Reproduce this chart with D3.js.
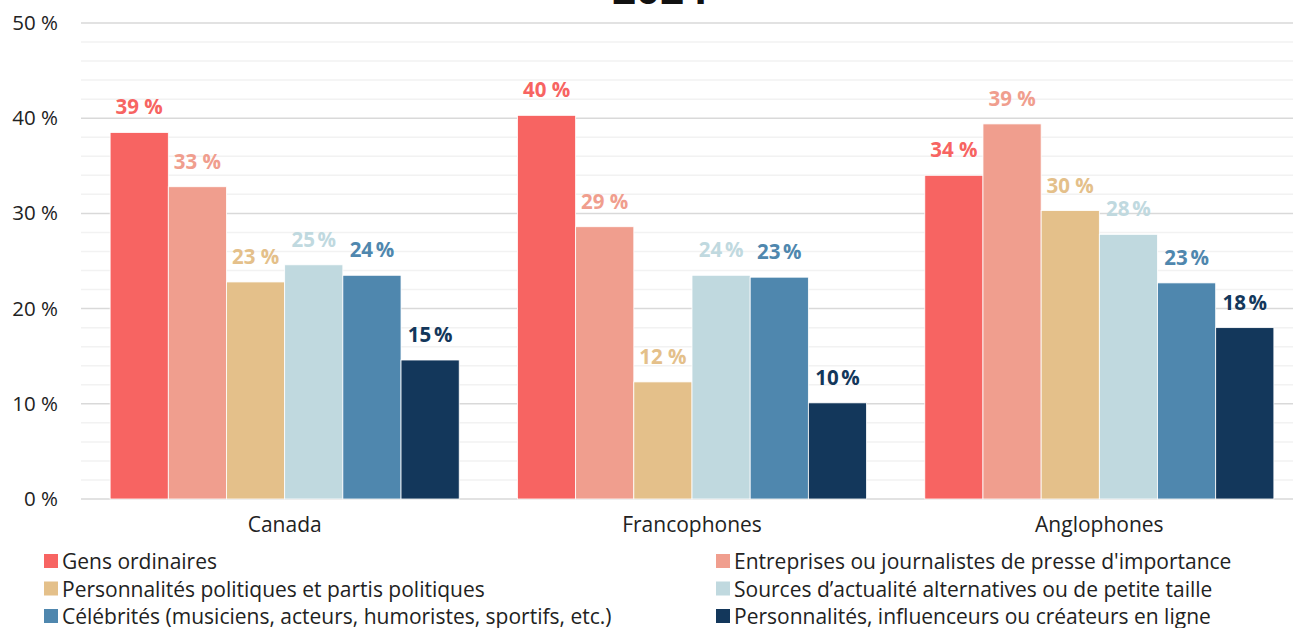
<!DOCTYPE html>
<html>
<head>
<meta charset="utf-8">
<script src="https://cdn.jsdelivr.net/npm/d3@7"></script>
<style>
  body { margin: 0; background: #fff; }
  svg { display: block; font-family: "Open Sans", "Noto Sans", sans-serif; }
</style>
</head>
<body>
<svg id="chart" width="1293" height="628"></svg>
<script>
var groups = ["Canada", "Francophones", "Anglophones"];
var series = [
  "Gens ordinaires",
  "Entreprises ou journalistes de presse d'importance",
  "Personnalités politiques et partis politiques",
  "Sources d’actualité alternatives ou de petite taille",
  "Célébrités (musiciens, acteurs, humoristes, sportifs, etc.)",
  "Personnalités, influenceurs ou créateurs en ligne"
];
var colors = ["#f76462", "#f09e8e", "#e4c08a", "#c0d9df", "#4f87ae", "#13375b"];
// one row per group, one value per series (percent)
var canada = [38.5, 32.8, 22.8, 24.6, 23.5, 14.6];
var francophones = [40.3, 28.6, 12.3, 23.5, 23.3, 10.1];
var anglophones = [34.0, 39.4, 30.3, 27.8, 22.7, 18.0];
var yTicks = [0, 10, 20, 30, 40, 50];

var values = [canada, francophones, anglophones];

var svg = d3.select("#chart");
var plotLeft = 81, plotRight = 1303, plotTop = 23, plotBottom = 499;

var y = d3.scaleLinear().domain([0, 50]).range([plotBottom, plotTop]);
var x0 = d3.scaleBand().domain(groups).range([plotLeft, plotRight])
  .paddingInner(0.143).paddingOuter(0.0715);
var x1 = d3.scaleBand().domain(series).range([0, x0.bandwidth()]);

// minor grid
svg.append("g").selectAll("line")
  .data(d3.range(0, 51, 2).filter(function(d) { return d % 10 != 0; }))
  .enter().append("line")
  .attr("x1", plotLeft).attr("x2", 1293)
  .attr("y1", function(d) { return y(d); })
  .attr("y2", function(d) { return y(d); })
  .attr("stroke", "#f2f2f2").attr("stroke-width", 1.5);

// major grid
svg.append("g").selectAll("line")
  .data(yTicks)
  .enter().append("line")
  .attr("x1", plotLeft).attr("x2", 1293)
  .attr("y1", function(d) { return y(d); })
  .attr("y2", function(d) { return y(d); })
  .attr("stroke", "#d9d9d9").attr("stroke-width", 1.5);

// y axis labels
var yAxis = d3.axisLeft(y).tickValues(yTicks).tickSize(0).tickPadding(0)
  .tickFormat(function(d) { return d + " %"; });
var ya = svg.append("g").attr("transform", "translate(58,0)").call(yAxis);
ya.select(".domain").remove();
ya.selectAll("text").attr("font-size", 20.5).attr("fill", "#222")
  .attr("font-family", "'Open Sans', sans-serif");

// title (cut off at top)
svg.append("text")
  .attr("x", 660).attr("y", 4)
  .attr("text-anchor", "middle")
  .attr("font-size", 42).attr("font-weight", "bold").attr("fill", "#111")
  .text("2024");

// bars
var g = svg.append("g").selectAll("g")
  .data(groups)
  .enter().append("g")
  .attr("transform", function(d) { return "translate(" + x0(d) + ",0)"; });

g.selectAll("rect")
  .data(function(d, i) {
    return series.map(function(s, j) { return {s: s, v: values[i][j], c: colors[j], j: j}; });
  })
  .enter().append("rect")
  .attr("x", function(d) { return x1(d.s); })
  .attr("width", x1.bandwidth())
  .attr("y", function(d) { return y(d.v); })
  .attr("height", function(d) { return plotBottom - y(d.v); })
  .attr("fill", function(d) { return d.c; })
  .attr("stroke", "#fff").attr("stroke-width", 0.8);

g.selectAll("text")
  .data(function(d, i) {
    return series.map(function(s, j) { return {s: s, v: values[i][j], c: colors[j], j: j}; });
  })
  .enter().append("text")
  .attr("x", function(d) { return x1(d.s) + x1.bandwidth() / 2; })
  .attr("y", function(d) { return y(d.v) - 18; })
  .attr("text-anchor", "middle")
  .attr("font-size", 20.5).attr("font-weight", "bold")
  .attr("fill", function(d) { return d.c; })
  .text(function(d) { return Math.round(d.v) + (d.j < 3 ? " %" : "\u202f%"); });

// x axis labels
var xAxis = d3.axisBottom(x0).tickSize(0).tickPadding(0);
var xa = svg.append("g").attr("transform", "translate(0,517)").call(xAxis);
xa.select(".domain").remove();
xa.selectAll("text").attr("font-size", 21).attr("fill", "#222")
  .attr("font-family", "'Open Sans', sans-serif");

// legend
var leg = svg.append("g").selectAll("g")
  .data(series)
  .enter().append("g")
  .attr("transform", function(d, i) {
    var col = i % 2, row = Math.floor(i / 2);
    return "translate(" + (col ? 716 : 44) + "," + (554 + row * 27.5) + ")";
  });
leg.append("rect").attr("width", 14).attr("height", 14)
  .attr("fill", function(d, i) { return colors[i]; });
leg.append("text").attr("x", 18).attr("y", 15)
  .attr("font-size", 21).attr("fill", "#222")
  .text(function(d) { return d; });
</script>
</body>
</html>
